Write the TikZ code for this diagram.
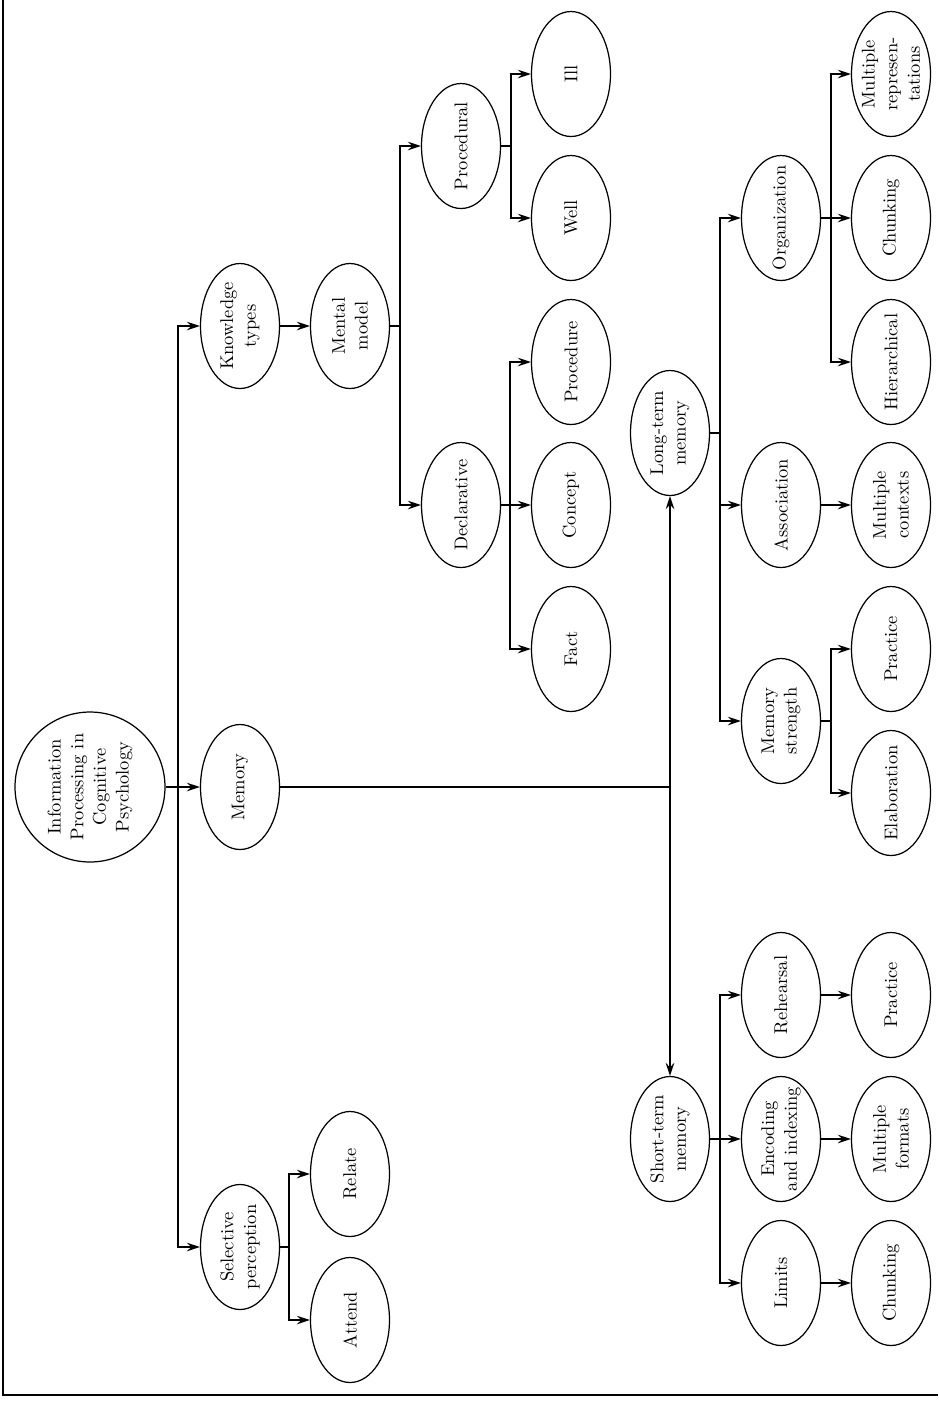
\documentclass[tikz,border=0pt]{standalone}
\usetikzlibrary{shapes.geometric,arrows.meta}

\begin{document}
\begin{tikzpicture}[x=0.02cm, y=-0.02cm,
  oval/.style={ellipse, draw, line width=0.7pt, minimum width=1.58cm, minimum height=2.5cm, inner sep=0pt},
  txt/.style={rotate=90, align=center, font=\fontsize{10.5pt}{12.9pt}\selectfont},
  wire/.style={line width=1pt},
  arr/.style={wire, -{Stealth[length=2.6mm, width=1.7mm, inset=0.9mm]}}]
  \useasboundingbox (0,0) rectangle (938,1401);
  \draw[wire] (3,0) -- (3,1395) -- (938,1395);

  % column 1 and 2
  \node [circle, draw, line width=0.7pt, minimum size=3cm, inner sep=0pt](root) at (90,787) {};
  \node [oval](kt) at (240,326) {};
  \node [oval](mem) at (240,787) {};
  \node [oval](sp) at (240,1247) {};
  \node [oval](mm) at (350,326) {};
  \node [oval](rel) at (350,1174) {};
  \node [oval](att) at (350,1320) {};

  \draw (root) node[txt] {Information\\Processing in\\Cognitive\\Psychology};
  \draw (kt) node[txt] {Knowledge\\types};
  \draw (mem) node[txt] {Memory};
  \draw (sp) node[txt] {Selective\\perception};
  \draw (mm) node[txt] {Mental\\model};
  \draw (rel) node[txt] {Relate};
  \draw (att) node[txt] {Attend};

  % knowledge types
  \node [oval](proc) at (461,146) {};
  \node [oval](decl) at (461,505) {};
  \node [oval](ill) at (571,74) {};
  \node [oval](well) at (571,218) {};
  \node [oval](pcd) at (571,362) {};
  \node [oval](cpt) at (571,505) {};
  \node [oval](fact) at (571,649) {};

  \draw (proc) node[txt] {Procedural};
  \draw (decl) node[txt] {Declarative};
  \draw (ill) node[txt] {Ill};
  \draw (well) node[txt] {Well};
  \draw (pcd) node[txt] {Procedure};
  \draw (cpt) node[txt] {Concept};
  \draw (fact) node[txt] {Fact};

  % memory
  \node [oval](ltm) at (670,433) {};
  \node [oval](stm) at (670,1139) {};
  \node [oval](org) at (781,218) {};
  \node [oval](asc) at (781,505) {};
  \node [oval](mst) at (781,721) {};
  \node [oval](reh) at (781,995) {};
  \node [oval](enc) at (781,1139) {};
  \node [oval](lim) at (781,1283) {};
  \node [oval](mrep) at (891,74) {};
  \node [oval](chka) at (891,218) {};
  \node [oval](hier) at (891,362) {};
  \node [oval](mctx) at (891,505) {};
  \node [oval](praca) at (891,649) {};
  \node [oval](elab) at (891,793) {};
  \node [oval](pracb) at (891,995) {};
  \node [oval](mfmt) at (891,1139) {};
  \node [oval](chkb) at (891,1283) {};

  \draw (ltm) node[txt] {Long-term\\memory};
  \draw (stm) node[txt] {Short-term\\memory};
  \draw (org) node[txt] {Organization};
  \draw (asc) node[txt] {Association};
  \draw (mst) node[txt] {Memory\\strength};
  \draw (reh) node[txt] {Rehearsal};
  \draw (enc) node[txt] {Encoding\\and indexing};
  \draw (lim) node[txt] {Limits};
  \draw (mrep) node[txt] {Multiple\\represen-\\tations};
  \draw (chka) node[txt] {Chunking};
  \draw (hier) node[txt] {Hierarchical};
  \draw (mctx) node[txt] {Multiple\\contexts};
  \draw (praca) node[txt] {Practice};
  \draw (elab) node[txt] {Elaboration};
  \draw (pracb) node[txt] {Practice};
  \draw (mfmt) node[txt] {Multiple\\formats};
  \draw (chkb) node[txt] {Chunking};

  % branch points
  \coordinate (r0) at (178,787);
  \coordinate (m0) at (400,326);
  \coordinate (p0) at (511,146);
  \coordinate (d0) at (510,505);
  \coordinate (y0) at (670,787);
  \coordinate (l0) at (720,433);
  \coordinate (o0) at (831,218);
  \coordinate (s0) at (831,721);
  \coordinate (t0) at (720,1139);
  \coordinate (q0) at (289,1247);

  % connectors
  \draw[wire] (root) -- (r0);
  \draw[arr] (r0) |- (kt);
  \draw[arr] (r0) -- (mem);
  \draw[arr] (r0) |- (sp);

  \draw[wire] (sp) -- (q0);
  \draw[arr] (q0) |- (rel);
  \draw[arr] (q0) |- (att);

  \draw[arr] (kt) -- (mm);
  \draw[wire] (mm) -- (m0);
  \draw[arr] (m0) |- (proc);
  \draw[arr] (m0) |- (decl);

  \draw[wire] (proc) -- (p0);
  \draw[arr] (p0) |- (ill);
  \draw[arr] (p0) |- (well);

  \draw[wire] (decl) -- (d0);
  \draw[arr] (d0) |- (pcd);
  \draw[arr] (d0) -- (cpt);
  \draw[arr] (d0) |- (fact);

  \draw[wire] (mem) -- (y0);
  \draw[arr] (y0) -- (ltm);
  \draw[arr] (y0) -- (stm);

  \draw[wire] (ltm) -- (l0);
  \draw[arr] (l0) |- (org);
  \draw[arr] (l0) |- (asc);
  \draw[arr] (l0) |- (mst);

  \draw[wire] (org) -- (o0);
  \draw[arr] (o0) |- (mrep);
  \draw[arr] (o0) -- (chka);
  \draw[arr] (o0) |- (hier);
  \draw[arr] (asc) -- (mctx);
  \draw[wire] (mst) -- (s0);
  \draw[arr] (s0) |- (praca);
  \draw[arr] (s0) |- (elab);

  \draw[wire] (stm) -- (t0);
  \draw[arr] (t0) |- (reh);
  \draw[arr] (t0) -- (enc);
  \draw[arr] (t0) |- (lim);
  \draw[arr] (reh) -- (pracb);
  \draw[arr] (enc) -- (mfmt);
  \draw[arr] (lim) -- (chkb);
\end{tikzpicture}
\end{document}
